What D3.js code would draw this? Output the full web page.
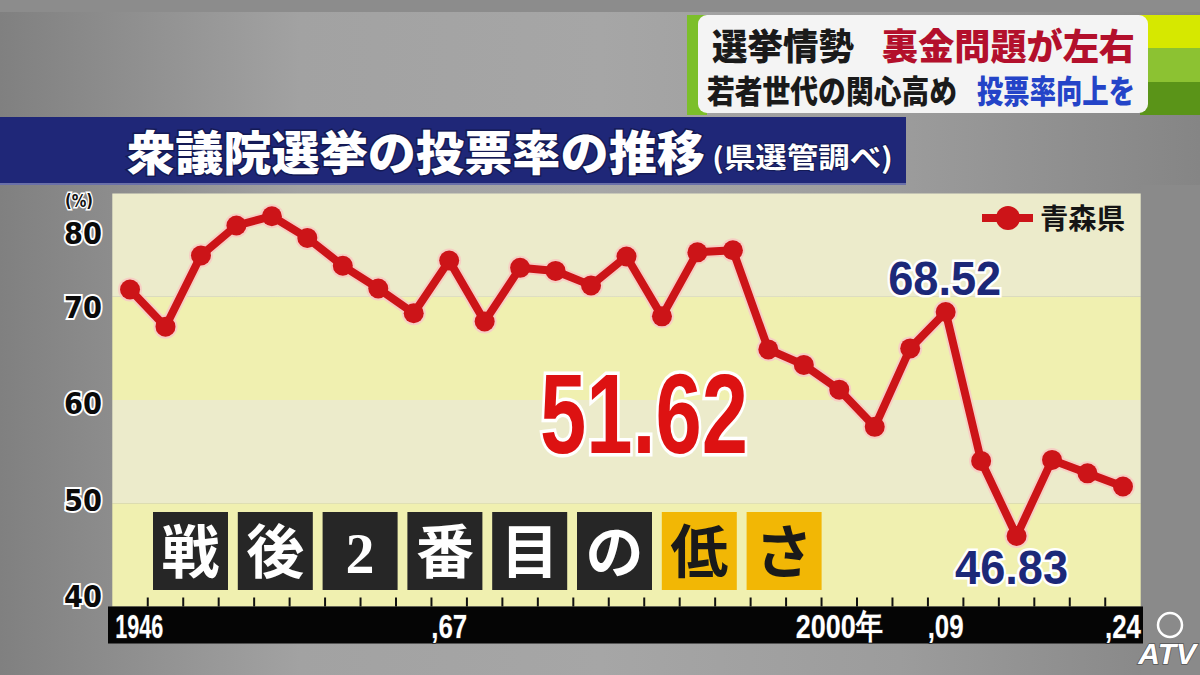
<!DOCTYPE html>
<html><head><meta charset="utf-8">
<script src="https://cdn.jsdelivr.net/npm/d3@7"></script>
<style>
html,body{margin:0;padding:0;background:#999;}
svg{display:block;}
</style></head>
<body>
<svg id="c" width="1200" height="675"></svg>
<script>
// ---- data ----
const years = [1946,1947,1949,1952,1953,1955,1958,1960,1963,1967,1969,1972,1976,1979,1980,1983,1986,1990,1993,1996,2000,2003,2005,2009,2012,2014,2017,2021,2024];
const turnout = [70.7,67.1,74.0,76.9,77.8,75.7,73.0,70.8,68.4,73.5,67.6,72.8,72.5,71.1,73.9,68.1,74.3,74.5,64.9,63.4,61.0,57.4,65.0,68.52,54.1,46.83,54.2,52.9,51.62];
const yTicks = [40,50,60,70,80];
const xLabelYears = [1946,1967,2000,2009,2024];
const xLabelTexts = ["1946",",67","2000年",",09",",24"];
const seriesName = "青森県";
const annotYears = [2009,2014];
const bigValue = "51.62";
const boxChars = ["戦","後","2","番","目","の","低","さ"];
const title = "衆議院選挙の投票率の推移";
const subtitle = "(県選管調べ)";
const bannerLine1 = ["選挙情勢","裏金問題が左右"];
const bannerLine2 = ["若者世代の関心高め","投票率向上を"];

const svg = d3.select("#c");
const defs = svg.append("defs");
const bg = defs.append("linearGradient").attr("id","bg").attr("x1","0").attr("x2","1").attr("y1","0").attr("y2","0");
[[0,"#808080"],[0.25,"#a2a2a2"],[0.5,"#a6a6a6"],[0.75,"#9c9c9c"],[1,"#858585"]].forEach(s=>bg.append("stop").attr("offset",s[0]).attr("stop-color",s[1]));
svg.append("rect").attr("width",1200).attr("height",675).attr("fill","url(#bg)");
svg.append("rect").attr("width",1200).attr("height",12).attr("fill","#8c8c8c");
svg.append("rect").attr("x",1141).attr("y",185).attr("width",59).attr("height",490).attr("fill","#8a8a8a");

// ---- scales ----
const P = {l:112.3, r:1140.7, t:193.5, b:606.5};
const x = d3.scaleBand().domain(years).range([P.l,P.r]).padding(0);
const cx = d => x(d) + x.bandwidth()/2;
const y = d3.scaleLinear().domain([40,80]).range([P.b,P.t]);

// bands
const bandCols = ["#f0f0b0","#ecebcb"];
const g = svg.append("g");
g.selectAll("rect.band").data(yTicks.slice(0,-1)).join("rect")
  .attr("x",P.l).attr("width",P.r-P.l)
  .attr("y",d=>y(d+10)).attr("height",d=>y(d)-y(d+10))
  .attr("fill",(d,i)=>bandCols[i%2]);

// x ticks (band boundaries)
g.selectAll("line.xt").data(years.slice(1)).join("line")
  .attr("x1",d=>x(d)).attr("x2",d=>x(d)).attr("y1",P.b-9).attr("y2",P.b)
  .attr("stroke","#111").attr("stroke-width",2);

// black axis bar
svg.append("rect").attr("x",108).attr("y",P.b).attr("width",1035).attr("height",37).attr("fill","#050505");

// x labels
const xl = svg.append("g");
xLabelYears.forEach((yr,i)=>{
  const t = xLabelTexts[i];
  const w = i===0 ? 48 : (t.indexOf("年")>=0 ? 87 : 36);
  xl.append("text")
    .attr("x", i===0 ? x(yr)+3 : cx(yr))
    .attr("y", P.b+31)
    .attr("text-anchor", i===0 ? "start" : "middle")
    .attr("font-family","Liberation Sans, Arial, sans-serif")
    .attr("font-size",34).attr("font-weight","bold")
    .attr("fill","#fff").attr("stroke","#222").attr("stroke-width",1.5)
    .attr("paint-order","stroke")
    .attr("textLength",w).attr("lengthAdjust","spacingAndGlyphs")
    .text(t);
});

// y labels
const yl = svg.append("g");
yl.selectAll("text").data(yTicks).join("text")
  .attr("x",102)
  .attr("y",d=> d===80 ? y(d)+50 : y(d)+(d-55)*0.67+11)
  .attr("text-anchor","end")
  .attr("font-family","DejaVu Sans, Liberation Sans, sans-serif")
  .attr("font-size",30).attr("font-weight","bold")
  .attr("fill","#0a0a0a").attr("stroke","#fff").attr("stroke-width",4)
  .attr("paint-order","stroke")
  .attr("textLength",38).attr("lengthAdjust","spacingAndGlyphs")
  .text(d=>d);
svg.append("text").attr("x",79).attr("y",207).attr("text-anchor","middle")
  .attr("font-family","DejaVu Sans, Liberation Sans, sans-serif").attr("font-size",17).attr("font-weight","bold")
  .attr("fill","#111").attr("stroke","#fff").attr("stroke-width",3).attr("paint-order","stroke")
  .attr("textLength",28).attr("lengthAdjust","spacingAndGlyphs")
  .text("(%)");

// ---- line ----
const pts = years.map((yr,i)=>[cx(yr), y(turnout[i])]);
const line = d3.line();
svg.append("path").attr("d",line(pts)).attr("fill","none")
  .attr("stroke","#f6cfc4").attr("stroke-width",12).attr("stroke-linejoin","round");
svg.selectAll("circle.h").data(pts).join("circle").attr("cx",d=>d[0]).attr("cy",d=>d[1]).attr("r",12).attr("fill","#f6cfc4");
svg.append("path").attr("d",line(pts)).attr("fill","none")
  .attr("stroke","#cc1418").attr("stroke-width",8).attr("stroke-linejoin","round");
svg.selectAll("circle.p").data(pts).join("circle").attr("cx",d=>d[0]).attr("cy",d=>d[1]).attr("r",10).attr("fill","#cc1418");

// legend
const lg = svg.append("g");
lg.append("line").attr("x1",982).attr("x2",1033).attr("y1",218).attr("y2",218).attr("stroke","#cc1418").attr("stroke-width",8);
lg.append("circle").attr("cx",1008).attr("cy",218).attr("r",12).attr("fill","#cc1418");
lg.append("text").attr("x",1040).attr("y",229).attr("font-family","Noto Sans CJK JP").attr("font-weight","bold")
  .attr("font-size",28).attr("fill","#151515").attr("textLength",85).attr("lengthAdjust","spacingAndGlyphs").text(seriesName);

// annotations
const ann = svg.append("g");
annotYears.forEach((yr,k)=>{
  const v = turnout[years.indexOf(yr)];
  ann.append("text")
    .attr("x", cx(yr) + (k===0 ? -1 : -5))
    .attr("y", k===0 ? y(v)-17 : y(v)+48)
    .attr("text-anchor","middle")
    .attr("font-family","Liberation Sans, Arial, sans-serif").attr("font-weight","bold")
    .attr("font-size",49).attr("fill","#1c2878")
    .attr("stroke","#fff").attr("stroke-width",5).attr("paint-order","stroke")
    .attr("textLength",113).attr("lengthAdjust","spacingAndGlyphs")
    .text(v.toFixed(2));
});
svg.append("text").attr("x",644).attr("y",453).attr("text-anchor","middle")
  .attr("font-family","Liberation Sans, Arial, sans-serif").attr("font-weight","bold")
  .attr("font-size",113).attr("fill","#dd1212")
  .attr("stroke","#fff").attr("stroke-width",7).attr("paint-order","stroke")
  .attr("textLength",208).attr("lengthAdjust","spacingAndGlyphs")
  .text(bigValue);

// boxes
const bx = svg.append("g");
const bxs = bx.selectAll("g").data(boxChars).join("g").attr("transform",(d,i)=>`translate(${153+i*84.8},512)`);
bxs.append("rect").attr("width",75).attr("height",78).attr("fill",(d,i)=> i<6 ? "#262626" : "#f2b705");
bxs.append("text").attr("x",37.5).attr("y",61).attr("text-anchor","middle")
  .attr("font-family","Liberation Serif, 'Noto Sans CJK JP', serif").attr("font-weight","bold")
  .attr("font-size",58).attr("fill",(d,i)=> i<6 ? "#fff" : "#1a1a1a").text(d=>d);

// title bar
svg.append("rect").attr("x",0).attr("y",117).attr("width",906).attr("height",68).attr("fill","#1f2778");
svg.append("rect").attr("x",0).attr("y",183).attr("width",906).attr("height",2).attr("fill","#6a70a8");
svg.append("text").attr("x",127).attr("y",170)
  .attr("font-family","Noto Sans CJK JP").attr("font-weight","900").attr("font-size",47)
  .attr("fill","#fff").attr("stroke","#141a55").attr("stroke-width",3).attr("paint-order","stroke")
  .attr("textLength",578).attr("lengthAdjust","spacingAndGlyphs").text(title);
svg.append("text").attr("x",712).attr("y",168)
  .attr("font-family","Noto Sans CJK JP").attr("font-weight","bold").attr("font-size",28)
  .attr("fill","#fff").attr("stroke","#141a55").attr("stroke-width",2).attr("paint-order","stroke")
  .attr("textLength",181).attr("lengthAdjust","spacingAndGlyphs").text(subtitle);

// top banner
const bn = svg.append("g");
bn.append("rect").attr("x",687).attr("y",15).attr("width",20).attr("height",100).attr("fill","#7cbf2a");
bn.append("rect").attr("x",1140).attr("y",15).attr("width",60).attr("height",33).attr("fill","#d6e800");
bn.append("rect").attr("x",1140).attr("y",48).attr("width",60).attr("height",34).attr("fill","#8cc232");
bn.append("rect").attr("x",1140).attr("y",82).attr("width",60).attr("height",33).attr("fill","#5a9418");
bn.append("rect").attr("x",698).attr("y",15).attr("width",450).attr("height",98).attr("rx",9).attr("fill","#f4f4f4");
const bt = (t,xx,yy,w,fs,col)=>bn.append("text").attr("x",xx).attr("y",yy)
  .attr("font-family","Noto Sans CJK JP").attr("font-weight","900").attr("font-size",fs)
  .attr("fill",col).attr("textLength",w).attr("lengthAdjust","spacingAndGlyphs").text(t);
bt(bannerLine1[0],712,60,142,36,"#1a1a1a");
bt(bannerLine1[1],882,60,253,36,"#b3102c");
bt(bannerLine2[0],707,103,250,32,"#1a1a1a");
bt(bannerLine2[1],977,103,158,32,"#2444c8");

// logo
const lo = svg.append("g");
lo.append("circle").attr("cx",1170).attr("cy",625).attr("r",12).attr("fill","none").attr("stroke","#fff").attr("stroke-width",2.5);
lo.append("text").attr("x",1196).attr("y",664).attr("text-anchor","end")
  .attr("font-family","Liberation Sans, Arial, sans-serif").attr("font-style","italic").attr("font-weight","bold")
  .attr("font-size",30).attr("fill","#fff").attr("stroke","#555").attr("stroke-width",1.5).attr("paint-order","stroke")
  .text("ATV");
</script>
</body></html>
